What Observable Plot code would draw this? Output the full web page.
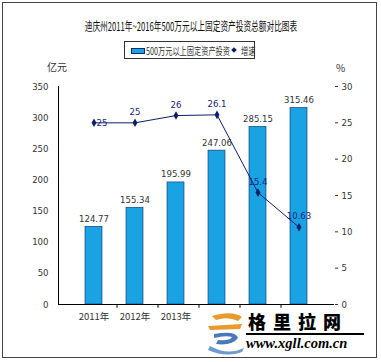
<!DOCTYPE html>
<html><head><meta charset="utf-8">
<script src="https://cdn.jsdelivr.net/npm/d3@7"></script>
<script src="https://cdn.jsdelivr.net/npm/@observablehq/plot@0.6"></script>
<style>
body{margin:0;background:#fff;}
#wrap{position:relative;width:381px;height:362px;overflow:hidden;font-family:"Liberation Sans Narrow","DejaVu Sans Condensed","Noto Sans CJK SC",sans-serif;color:#333;}
#frame{position:absolute;left:2px;top:2px;width:375px;height:356px;border:1px solid #444;box-sizing:border-box;}
#title{position:absolute;left:0;top:17px;width:381px;text-align:center;font-size:12px;color:#111;white-space:nowrap;}
#title span{display:inline-block;transform:scaleX(0.64);transform-origin:center;font-family:"Noto Sans CJK SC",sans-serif;}
#legend{position:absolute;left:124px;top:41px;width:131px;height:18px;border:1px solid #333;box-sizing:border-box;font-size:10px;white-space:nowrap;}
.sw{position:absolute;left:6px;top:6px;width:14px;height:6px;background:#1aa3e3;border:1px solid #0a2a6a;box-sizing:border-box;}
.lt{position:absolute;top:1px;font-family:"Noto Sans CJK SC",sans-serif;transform:scaleX(0.72);transform-origin:left center;}
.dm{position:absolute;left:107px;top:6px;width:4px;height:4px;background:#0d1f6b;transform:rotate(45deg);}
.unit{position:absolute;font-size:10px;font-family:"Noto Sans CJK SC",sans-serif;color:#333;}
#wm{position:absolute;left:200px;top:308px;width:176px;height:48px;background:#fff;}
#wm .t1{position:absolute;left:48px;top:0px;font-family:"Noto Sans CJK SC",sans-serif;font-weight:900;font-size:18px;color:#000;letter-spacing:7px;}
#wm .ln{position:absolute;left:46px;top:25px;width:118px;height:2px;background:#000;}
#wm .t2{position:absolute;left:46px;top:27px;font-family:"Liberation Serif",serif;font-weight:bold;font-style:italic;font-size:14.5px;color:#000;}
</style></head>
<body>
<div id="wrap">
<div id="chart"></div>
<div id="frame"></div>
<div id="title"><span>迪庆州2011年~2016年500万元以上固定资产投资总额对比图表</span></div>
<div id="legend"><div class="sw"></div><div class="lt" style="left:21px">500万元以上固定资产投资</div><div class="dm"></div><div class="lt" style="left:116px">增速</div></div>
<div class="unit" style="left:47px;top:59px;">亿元</div>
<div class="unit" style="left:336px;top:60px;">%</div>
<div id="wm">
<svg width="46" height="48" style="position:absolute;left:2px;top:0">
<path d="M10 8 Q30 2 40 9 L36 13 Q26 8 14 12 Z" fill="#e89a2c"/>
<path d="M6 18 L40 16 L38 21 L8 22 Z" fill="#e89a2c"/>
<path d="M12 26 Q34 22 36 30 Q30 38 14 36 L16 32 Q28 33 30 29 Q24 27 12 30 Z" fill="#4a78b8"/>
<path d="M8 38 Q26 48 42 40 L40 44 Q24 50 6 42 Z" fill="#6d9ad0"/>
</svg>
<div class="t1">格里拉网</div>
<div class="ln"></div>
<div class="t2">www.xgll.com.cn</div>
</div>
</div>
<script>
const years = ["2011年","2012年","2013年","2014年","2015年","2016年"];
const investment = [124.77, 155.34, 195.99, 247.06, 285.15, 315.46];
const growth = [25, 25, 26, 26.1, 15.4, 10.63];
const growthLabels = ["25","25","26","26.1","15.4","10.63"];
const leftTicks = [0,50,100,150,200,250,300,350];
const rightTicks = [0,5,10,15,20,25,30];

const k = 350/30;
const bars = years.map((y,i)=>({year:y, value:investment[i]}));
const pts = years.map((y,i)=>({year:y, g:growth[i]*k, label:growthLabels[i]}));

const chart = Plot.plot({
  width:381, height:362,
  marginLeft:58, marginRight:47, marginTop:86, marginBottom:58,
  style:{fontFamily:'"Liberation Sans Narrow","DejaVu Sans Condensed",sans-serif', fontSize:"9px", color:"#333", background:"transparent"},
  x:{domain:years, padding:0.59, axis:null, label:null},
  y:{domain:[0,350], axis:null, label:null},
  marks:[
    Plot.barY(bars,{x:"year", y:"value", fill:"#1aa3e3", stroke:"#0a2a6a", strokeWidth:0.6}),
    Plot.text(bars,{x:"year", y:"value", text:d=>d.value.toFixed(2), dy:-8, fill:"#333", fontSize:9.5}),
    Plot.line(pts,{x:"year", y:"g", stroke:"#0d1f6b", strokeWidth:1}),
    Plot.dot(pts,{x:"year", y:"g", symbol:"diamond", r:2.6, fill:"#0d1f6b"}),
    Plot.text(pts.slice(1),{x:"year", y:"g", text:"label", dy:-11, fill:"#1a237e", fontSize:9.5}),
    Plot.text(pts.slice(0,1),{x:"year", y:"g", text:"label", dx:8, fill:"#1a237e", fontSize:9.5}),
    Plot.ruleY([0],{stroke:"#000", strokeWidth:1}),
    Plot.frame({anchor:"left", stroke:"#000"}),
    Plot.ruleX(years.slice(0,5),{x:d=>d, dx:23, y1:0, y2:-6, stroke:"#000"}),
    Plot.axisY(leftTicks,{anchor:"left", tickSize:0, tickPadding:10, fill:"#333", fontSize:9.5, label:null}),
    Plot.axisY(rightTicks.map(v=>v*k),{anchor:"right", tickSize:3, tickPadding:4, tickFormat:d=>String(Math.round(d/k)), fill:"#333", stroke:"#333", fontSize:9.5, label:null}),
    Plot.axisX(years,{anchor:"bottom", tickSize:0, tickPadding:9, fill:"#333", fontSize:9.5, label:null, fontFamily:'"Noto Sans CJK SC",sans-serif'})
  ]
});
document.getElementById("chart").appendChild(chart);
</script>
</body></html>
